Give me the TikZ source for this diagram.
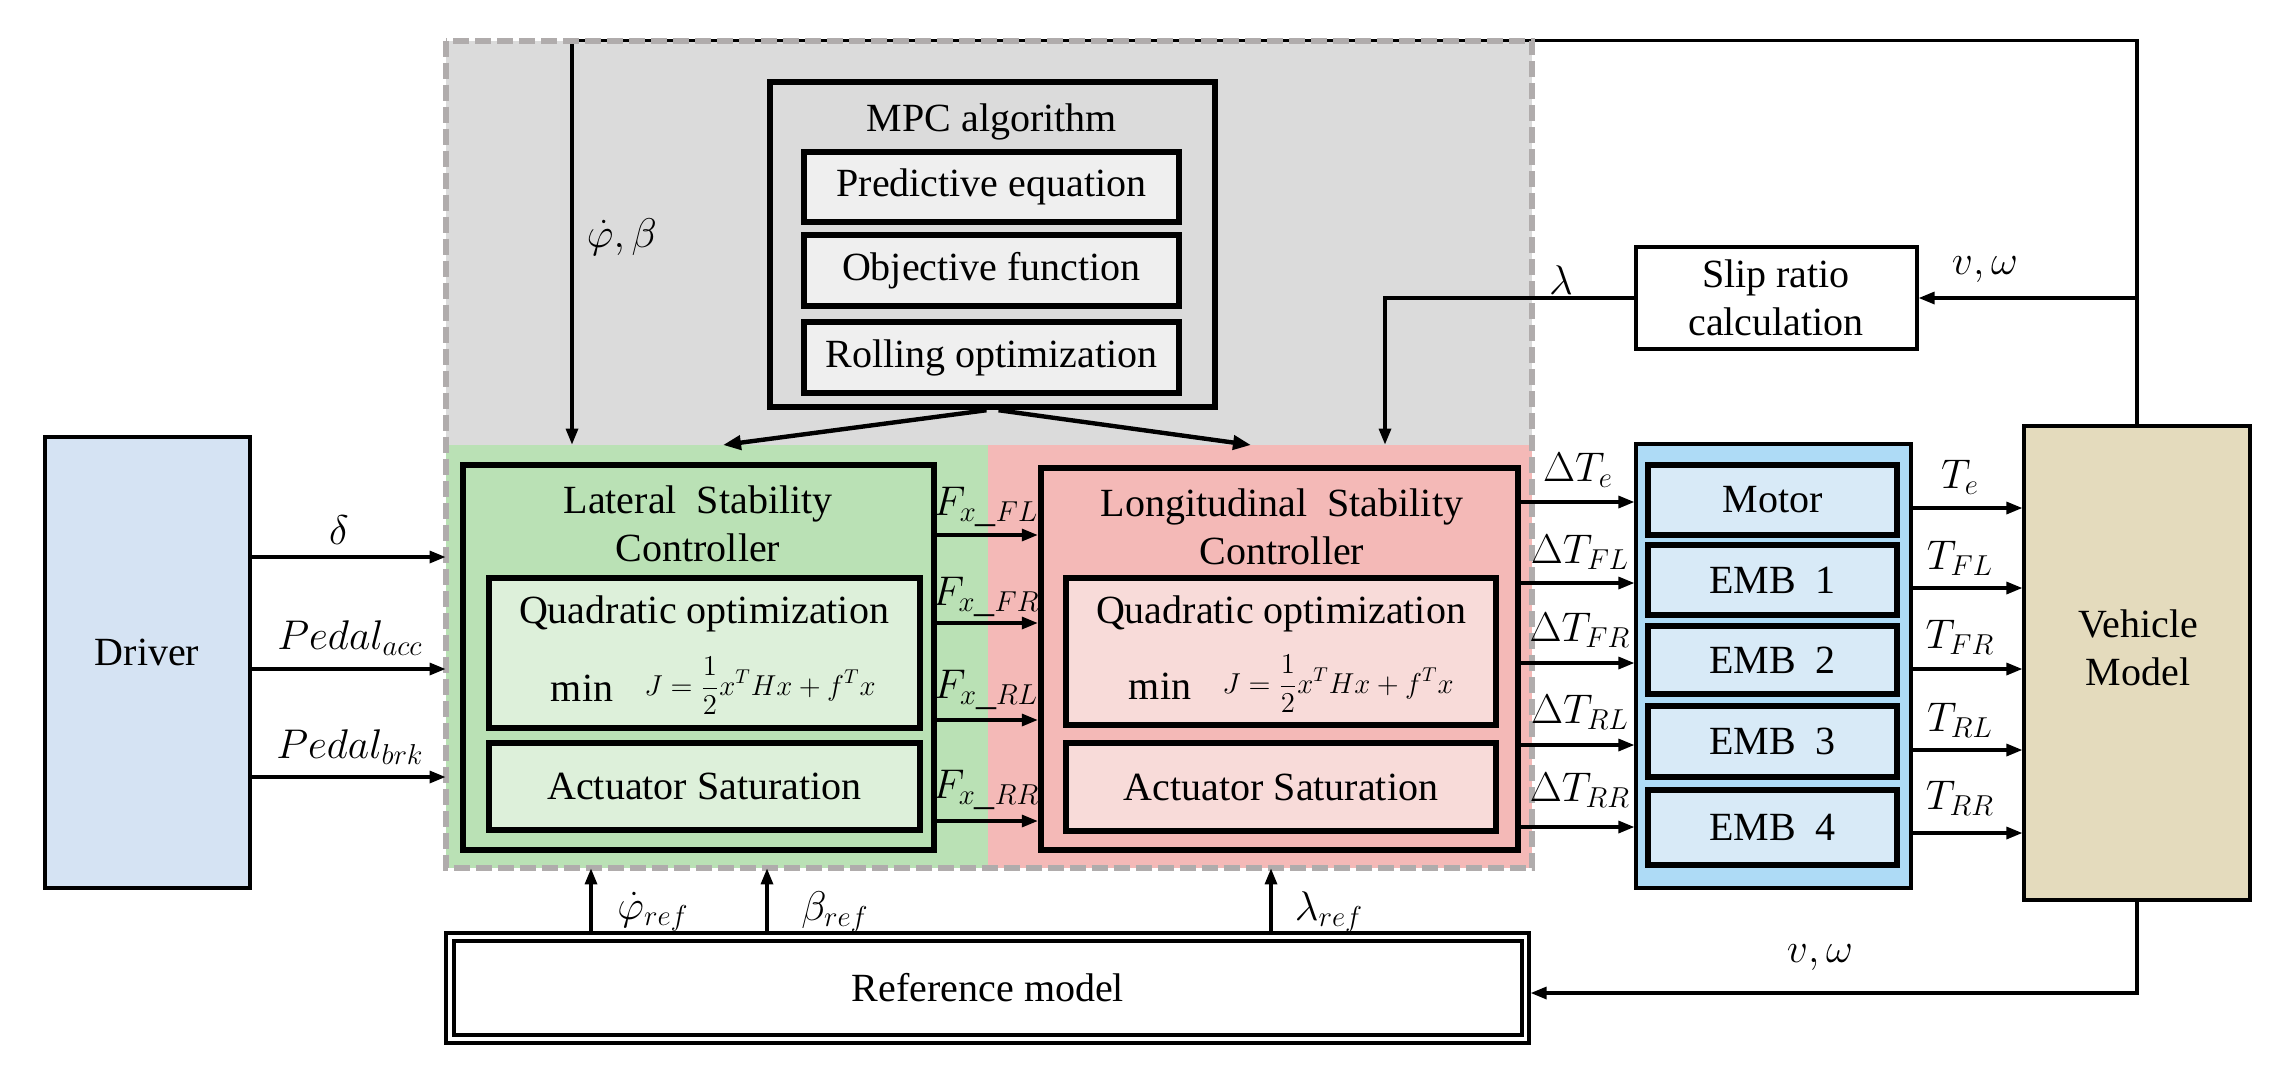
\documentclass[tikz,border=0pt]{standalone}
\usepackage{fontspec}
\setmainfont{Liberation Serif}
\usetikzlibrary{arrows.meta}
\DeclareMathSizes{22}{22}{15}{11}
\definecolor{bggray}{HTML}{DBDBDB}
\definecolor{dashgray}{HTML}{B0ACAC}
\definecolor{grn}{HTML}{BAE1B5}
\definecolor{grnin}{HTML}{DDF0DA}
\definecolor{redreg}{HTML}{F4B9B7}
\definecolor{redin}{HTML}{F8DBD9}
\definecolor{embout}{HTML}{AEDBF6}
\definecolor{embin}{HTML}{D8EAF7}
\definecolor{drv}{HTML}{D5E3F3}
\definecolor{veh}{HTML}{E4DBBD}
\definecolor{mpcin}{HTML}{EFEFEF}
% box from corner (x1,y1) to (x2,y2) in pixel units
\newcommand\bx[7]{%
  \pgfmathsetmacro\bxcx{(#2+#4)/2}%
  \pgfmathsetmacro\bxcy{(#3+#5)/2}%
  \pgfmathsetmacro\bxww{(#4-#2)*0.5}%
  \pgfmathsetmacro\bxhh{(#5-#3)*0.5}%
  \node[#6, minimum width=\bxww pt, minimum height=\bxhh pt, inner sep=0pt] (#1) at (\bxcx,\bxcy) {#7};}
\begin{document}
\begin{tikzpicture}[x=0.5pt,y=-0.5pt,
  thickbox/.style={draw=black,line width=3.2pt},
  thinbox/.style={draw=black,line width=1.6pt},
  txt/.style={font=\fontsize{20}{24}\selectfont, inner sep=0pt, align=center},
  lab/.style={font=\fontsize{22}{26}\selectfont, inner sep=0pt},
  labf/.style={font=\fontsize{20}{24}\selectfont, inner sep=0pt},
  frm/.style={font=\fontsize{14}{17}\selectfont, inner sep=0pt},
  arr/.style={line width=1.6pt, -{Triangle[length=8pt,width=6pt]}},
  bigarr/.style={line width=2.2pt, -{Triangle[length=9pt,width=7pt]}},
]
\useasboundingbox (0,0) rectangle (2288,1073);

% coloured regions
\bx{ctrl}{446}{41}{1532}{868}{fill=bggray}{}
\bx{grnreg}{446}{445}{988}{868}{fill=grn}{}
\bx{redreg}{988}{445}{1532}{868}{fill=redreg}{}

% helper coordinates
\coordinate (xtop) at (572,0);
\coordinate (xlam) at (1385,0);
\coordinate (xphi) at (591,0);
\coordinate (xbeta) at (767,0);
\coordinate (xlref) at (1271,0);
\coordinate (yd1) at (0,557);
\coordinate (yd2) at (0,669);
\coordinate (yd3) at (0,777);
\coordinate (yF1) at (0,535);
\coordinate (yF2) at (0,623);
\coordinate (yF3) at (0,720);
\coordinate (yF4) at (0,821);
\coordinate (yT1) at (0,502);
\coordinate (yT2) at (0,583);
\coordinate (yT3) at (0,663);
\coordinate (yT4) at (0,745);
\coordinate (yT5) at (0,827);
\coordinate (yV1) at (0,508);
\coordinate (yV2) at (0,588);
\coordinate (yV3) at (0,669);
\coordinate (yV4) at (0,750);
\coordinate (yV5) at (0,833);
\coordinate (yvb) at (0,993);
\coordinate (mpcL) at (723,445);
\coordinate (mpcR) at (1251,445);

% boxes
\bx{driver}{45}{437}{250}{888}{thinbox,fill=drv}{}
\node[txt] (tdriver) at (147,652) {Driver};

\bx{mpc}{770}{82}{1215}{407}{thickbox,fill=bggray}{}
\node[txt] (tmpc) at (992,122) {MPC algorithm};
\bx{pred}{804}{152}{1179}{222}{thickbox,fill=mpcin}{\fontsize{20}{24}\selectfont Predictive equation}
\bx{obj}{804}{235}{1179}{306}{thickbox,fill=mpcin}{\fontsize{20}{24}\selectfont Objective function}
\bx{roll}{804}{322}{1179}{393}{thickbox,fill=mpcin}{\fontsize{20}{24}\selectfont Rolling optimization}

\bx{lat}{463}{465}{934}{850}{thickbox,fill=grn}{}
\node[txt] (tlat) at (698,524) {Lateral\ \ Stability\\Controller};
\bx{latq}{489}{578}{920}{728}{thickbox,fill=grnin}{}
\node[txt] (tlatq) at (704,614) {Quadratic optimization};
\node[txt] (tlatmin) at (582,688) {min};
\node[frm] (tlatj) at (760,686) {$\displaystyle J=\frac{1}{2}x^{T}Hx+f^{T}x$};
\bx{lata}{489}{743}{920}{830}{thickbox,fill=grnin}{\fontsize{20}{24}\selectfont Actuator Saturation}

\bx{long}{1041}{468}{1518}{850}{thickbox,fill=redreg}{}
\node[txt] (tlong) at (1282,527) {Longitudinal\ \ Stability\\Controller};
\bx{longq}{1066}{578}{1496}{725}{thickbox,fill=redin}{}
\node[txt] (tlongq) at (1281,614) {Quadratic optimization};
\node[txt] (tlongmin) at (1160,686) {min};
\node[frm] (tlongj) at (1338,684) {$\displaystyle J=\frac{1}{2}x^{T}Hx+f^{T}x$};
\bx{longa}{1066}{743}{1496}{831}{thickbox,fill=redin}{\fontsize{20}{24}\selectfont Actuator Saturation}

\bx{slip}{1636}{247}{1917}{349}{thinbox,fill=white}{}
\node[txt] (tslip) at (1776,298) {Slip ratio\\calculation};

\bx{emb}{1636}{444}{1911}{888}{thinbox,fill=embout}{}
\bx{motor}{1648}{465}{1897}{535}{thickbox,fill=embin}{\fontsize{20}{24}\selectfont Motor}
\bx{emba}{1648}{545}{1897}{615}{thickbox,fill=embin}{\fontsize{20}{24}\selectfont EMB\ \ 1}
\bx{embb}{1648}{626}{1897}{694}{thickbox,fill=embin}{\fontsize{20}{24}\selectfont EMB\ \ 2}
\bx{embc}{1648}{706}{1897}{777}{thickbox,fill=embin}{\fontsize{20}{24}\selectfont EMB\ \ 3}
\bx{embd}{1648}{790}{1897}{865}{thickbox,fill=embin}{\fontsize{20}{24}\selectfont EMB\ \ 4}

\bx{veh}{2024}{426}{2250}{900}{thinbox,fill=veh}{}
\node[txt] (tveh) at (2138,648) {Vehicle\\Model};

\bx{refo}{446}{933}{1529}{1043}{thinbox,fill=white}{}
\bx{ref}{454}{941}{1522}{1035}{thinbox}{\fontsize{20}{24}\selectfont Reference model}

% top feedback loop
\draw[arr] (veh.north) -- (veh.north |- ctrl.north) -- (xtop |- ctrl.north) -- (xtop |- grnreg.north);
\node[lab] (lphib) at (622,237) {$\dot{\varphi},\beta$};

% dashed border of the controller area
\draw[dashgray, line width=3pt, dash pattern=on 8pt off 3pt] (ctrl.north west) rectangle (ctrl.south east);

% MPC to controllers
\draw[bigarr] ([xshift=-3pt]mpc.south) -- (mpcL);
\draw[bigarr] ([xshift=3pt]mpc.south) -- (mpcR);

% slip ratio
\draw[arr] (veh.north |- slip.east) -- (slip.east);
\node[lab] (lvw1) at (1985,270) {$v,\omega$};
\draw[arr] (slip.west) -- (xlam |- slip.west) -- (xlam |- redreg.north);
\node[lab] (llam) at (1561,280) {$\lambda$};

% driver inputs
\draw[arr] (driver.east |- yd1) -- (ctrl.west |- yd1);
\draw[arr] (driver.east |- yd2) -- (ctrl.west |- yd2);
\draw[arr] (driver.east |- yd3) -- (ctrl.west |- yd3);
\node[lab] (ldelta) at (339,530) {$\delta$};
\node[lab] (lacc) at (350,638) {$Pedal_{acc}$};
\node[lab] (lbrk) at (350,747) {$Pedal_{brk}$};

% forces
\draw[arr] (lat.east |- yF1) -- (long.west |- yF1);
\draw[arr] (lat.east |- yF2) -- (long.west |- yF2);
\draw[arr] (lat.east |- yF3) -- (long.west |- yF3);
\draw[arr] (lat.east |- yF4) -- (long.west |- yF4);
\node[labf] (lf1) at (986,507) {$F_{x\_FL}$};
\node[labf] (lf2) at (986,597) {$F_{x\_FR}$};
\node[labf] (lf3) at (986,690) {$F_{x\_RL}$};
\node[labf] (lf4) at (986,790) {$F_{x\_RR}$};

% torque requests
\draw[arr] (long.east |- yT1) -- (emb.west |- yT1);
\draw[arr] (long.east |- yT2) -- (emb.west |- yT2);
\draw[arr] (long.east |- yT3) -- (emb.west |- yT3);
\draw[arr] (long.east |- yT4) -- (emb.west |- yT4);
\draw[arr] (long.east |- yT5) -- (emb.west |- yT5);
\node[lab] (ldt1) at (1578,470) {$\Delta T_{e}$};
\node[lab] (ldt2) at (1580,552) {$\Delta T_{FL}$};
\node[lab] (ldt3) at (1580,630) {$\Delta T_{FR}$};
\node[lab] (ldt4) at (1580,712) {$\Delta T_{RL}$};
\node[lab] (ldt5) at (1580,790) {$\Delta T_{RR}$};

% actuator torques
\draw[arr] (emb.east |- yV1) -- (veh.west |- yV1);
\draw[arr] (emb.east |- yV2) -- (veh.west |- yV2);
\draw[arr] (emb.east |- yV3) -- (veh.west |- yV3);
\draw[arr] (emb.east |- yV4) -- (veh.west |- yV4);
\draw[arr] (emb.east |- yV5) -- (veh.west |- yV5);
\node[lab] (lt1) at (1960,477) {$T_{e}$};
\node[lab] (lt2) at (1960,558) {$T_{FL}$};
\node[lab] (lt3) at (1960,637) {$T_{FR}$};
\node[lab] (lt4) at (1960,720) {$T_{RL}$};
\node[lab] (lt5) at (1960,798) {$T_{RR}$};

% vehicle to reference model
\draw[arr] (veh.south) -- (veh.south |- yvb) -- (refo.east |- yvb);
\node[lab] (lvw2) at (1820,958) {$v,\omega$};

% reference signals
\draw[arr] (xphi |- refo.north) -- (xphi |- ctrl.south);
\draw[arr] (xbeta |- refo.north) -- (xbeta |- ctrl.south);
\draw[arr] (xlref |- refo.north) -- (xlref |- ctrl.south);
\node[lab] (lphir) at (653,912) {$\dot{\varphi}_{ref}$};
\node[lab] (lbetar) at (835,912) {$\beta_{ref}$};
\node[lab] (llamr) at (1329,912) {$\lambda_{ref}$};
\end{tikzpicture}
\end{document}
